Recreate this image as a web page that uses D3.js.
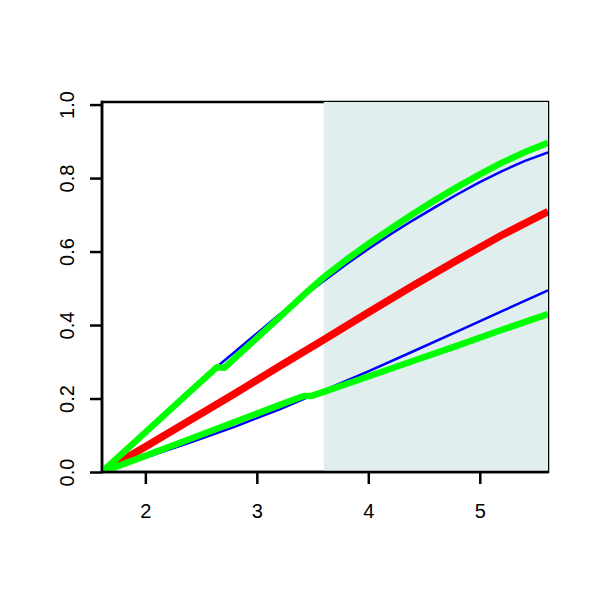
<!DOCTYPE html>
<html><head><meta charset="utf-8">
<script src="https://cdn.jsdelivr.net/npm/d3@7/dist/d3.min.js"></script>
<style>body{margin:0;background:#fff} svg{display:block}</style>
</head><body><svg id="c" width="600" height="600"></svg>
<script>
// ---- data ----
const xTicks = [2, 3, 4, 5];
const yTicks = [0, 0.2, 0.4, 0.6, 0.8, 1.0];
const yTickLabels = ["0.0", "0.2", "0.4", "0.6", "0.8", "1.0"];
const xDomain = [1.611, 5.612];
const yDomain = [0, 1.007];
const shadeFrom = 3.6;

const upperBlueX = [1.611, 2.0, 2.4, 2.64, 2.94, 3.2, 3.6, 3.8, 4.0, 4.2, 4.4, 4.6, 4.8, 5.0, 5.2, 5.4, 5.612];
const upperBlueY = [0, 0.109, 0.220, 0.286, 0.362, 0.428, 0.520, 0.565, 0.607, 0.647, 0.685, 0.721, 0.756, 0.789, 0.819, 0.846, 0.870];

const lowerBlueX = [1.611, 2.0, 2.4, 2.8, 3.2, 3.6, 4.0, 4.4, 4.8, 5.2, 5.612];
const lowerBlueY = [0, 0.039, 0.080, 0.123, 0.170, 0.222, 0.274, 0.328, 0.383, 0.438, 0.494];

const redX = [1.611, 2.0, 2.4, 2.8, 3.2, 3.6, 4.0, 4.4, 4.8, 5.2, 5.612];
const redY = [0, 0.069, 0.141, 0.213, 0.287, 0.360, 0.434, 0.507, 0.577, 0.645, 0.709];

const upperGreenX = [1.611, 2.0, 2.4, 2.64, 2.71, 2.94, 3.2, 3.45, 3.6, 3.8, 4.0, 4.2, 4.4, 4.6, 4.8, 5.0, 5.2, 5.4, 5.612];
const upperGreenY = [0, 0.108, 0.219, 0.285, 0.284, 0.348, 0.420, 0.490, 0.530, 0.577, 0.621, 0.662, 0.702, 0.740, 0.776, 0.810, 0.842, 0.870, 0.896];

const lowerGreenX = [1.611, 2.0, 2.4, 2.8, 3.2, 3.42, 3.49, 3.6, 4.0, 4.4, 4.8, 5.2, 5.612];
const lowerGreenY = [0, 0.044, 0.090, 0.136, 0.182, 0.207, 0.207, 0.218, 0.260, 0.302, 0.344, 0.387, 0.430];

// ---- drawing ----
const L = 102, R = 548, T = 102, B = 472;
const FONT = "Liberation Sans, Arial, Helvetica, sans-serif";
const svg = d3.select("#c");
const x = d3.scaleLinear().domain(xDomain).range([L, R]);
const y = d3.scaleLinear().domain(yDomain).range([B, T]);

// box
svg.append("rect").attr("x", L).attr("y", T).attr("width", R - L).attr("height", B - T)
  .attr("fill", "none").attr("stroke", "#000").attr("stroke-width", 2.5);

// shaded region
svg.append("rect")
  .attr("x", x(shadeFrom)).attr("y", y(yDomain[1]))
  .attr("width", x(xDomain[1]) - x(shadeFrom))
  .attr("height", y(yDomain[0]) - y(yDomain[1]))
  .attr("fill", "#E0EEEE");

svg.append("clipPath").attr("id", "pc").append("rect")
  .attr("x", L).attr("y", T).attr("width", R - L).attr("height", B - T);

const line = d3.line().x(d => x(d[0])).y(d => y(d[1])).curve(d3.curveLinear);
const g = svg.append("g").attr("clip-path", "url(#pc)");
function draw(xs, ys, color, w) {
  g.append("path").datum(xs.map((v, i) => [v, ys[i]]))
    .attr("d", line).attr("fill", "none").attr("stroke", color)
    .attr("stroke-width", w).attr("stroke-linejoin", "round").attr("stroke-linecap", "butt");
}
draw(redX, redY, "#FF0000", 7.5);
draw(upperBlueX, upperBlueY, "#0000FF", 2.5);
draw(lowerBlueX, lowerBlueY, "#0000FF", 2.5);
draw(upperGreenX, upperGreenY, "#00FF00", 6.5);
draw(lowerGreenX, lowerGreenY, "#00FF00", 6.5);

// axes
const xAxis = d3.axisBottom(x).tickValues(xTicks).tickSize(12).tickFormat(d3.format("d"));
const gx = svg.append("g").attr("transform", `translate(0,${B})`).call(xAxis);
gx.select(".domain").remove();
gx.selectAll(".tick line").attr("stroke-width", 2.5);
gx.selectAll(".tick text").attr("font-family", FONT).attr("font-size", 20).attr("fill", "#000")
  .attr("y", 32).attr("dy", "0.71em");

const yAxis = d3.axisLeft(y).tickValues(yTicks).tickSize(12).tickFormat((d, i) => yTickLabels[i]);
const gy = svg.append("g").attr("transform", `translate(${L},0)`).call(yAxis);
gy.select(".domain").remove();
gy.selectAll(".tick line").attr("stroke-width", 2.5);
gy.selectAll(".tick text")
  .attr("font-family", FONT).attr("font-size", 20).attr("fill", "#000")
  .attr("x", null).attr("dy", null)
  .attr("text-anchor", "middle")
  .attr("transform", "translate(-28,0) rotate(-90)");

// axis lines on top
svg.append("line").attr("x1", L).attr("x2", R).attr("y1", B).attr("y2", B).attr("stroke", "#000").attr("stroke-width", 2.5);
svg.append("line").attr("x1", L).attr("x2", L).attr("y1", T - 1.25).attr("y2", B + 1.25).attr("stroke", "#000").attr("stroke-width", 2.5);
</script></body></html>
